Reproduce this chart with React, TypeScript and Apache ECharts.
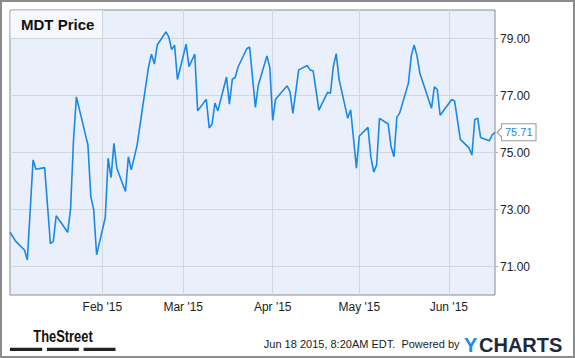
import React, { useEffect, useRef } from "react";
import * as echarts from "echarts";

// Trading dates (vertices of the price line) and closing prices
const dates: string[] = [
  "2014-12-31", "2015-01-02", "2015-01-05", "2015-01-06", "2015-01-08", "2015-01-09",
  "2015-01-12", "2015-01-14", "2015-01-15", "2015-01-16", "2015-01-20", "2015-01-21",
  "2015-01-22", "2015-01-23", "2015-01-27", "2015-01-28", "2015-01-29", "2015-01-30",
  "2015-02-02", "2015-02-03", "2015-02-04", "2015-02-05", "2015-02-06", "2015-02-09",
  "2015-02-10", "2015-02-11", "2015-02-13", "2015-02-17", "2015-02-18", "2015-02-19",
  "2015-02-20", "2015-02-23", "2015-02-24", "2015-02-25", "2015-02-26", "2015-02-27",
  "2015-03-02", "2015-03-03", "2015-03-05", "2015-03-06", "2015-03-09", "2015-03-10",
  "2015-03-11", "2015-03-12", "2015-03-13", "2015-03-16", "2015-03-17", "2015-03-18",
  "2015-03-19", "2015-03-20", "2015-03-23", "2015-03-24", "2015-03-26", "2015-03-27",
  "2015-03-30", "2015-03-31", "2015-04-01", "2015-04-02", "2015-04-06", "2015-04-07",
  "2015-04-08", "2015-04-10", "2015-04-13", "2015-04-14", "2015-04-15", "2015-04-17",
  "2015-04-20", "2015-04-21", "2015-04-22", "2015-04-23", "2015-04-24", "2015-04-27",
  "2015-04-28", "2015-04-30", "2015-05-01", "2015-05-04", "2015-05-05", "2015-05-06",
  "2015-05-07", "2015-05-08", "2015-05-11", "2015-05-12", "2015-05-13", "2015-05-14",
  "2015-05-15", "2015-05-18", "2015-05-19", "2015-05-20", "2015-05-21", "2015-05-22",
  "2015-05-26", "2015-05-27", "2015-05-28", "2015-05-29", "2015-06-02", "2015-06-03",
  "2015-06-05", "2015-06-08", "2015-06-09", "2015-06-10", "2015-06-11", "2015-06-12",
  "2015-06-15", "2015-06-16", "2015-06-17",
];

const prices: number[] = [
  72.2, 71.88, 71.58, 71.23, 74.74, 74.41,
  74.47, 71.8, 71.88, 72.78, 72.2, 73.05,
  75.44, 76.95, 75.26, 73.45, 72.99, 71.41,
  72.72, 74.8, 74.12, 75.32, 74.45, 73.63,
  74.85, 74.39, 75.24, 78.01, 78.45, 78.1,
  78.77, 79.23, 79.06, 78.61, 78.77, 77.56,
  78.8, 78.01, 78.45, 76.46, 76.87, 75.86,
  76.0, 76.74, 76.46, 77.65, 76.7, 77.57,
  77.63, 78.0, 78.64, 78.7, 76.58, 77.36,
  78.39, 77.98, 76.13, 76.87, 77.34, 77.13,
  76.37, 77.9, 78.05, 77.89, 77.87, 76.49,
  77.11, 77.08, 78.01, 78.47, 77.56, 76.2,
  76.5, 74.45, 75.58, 75.88, 74.85, 74.31,
  74.57, 76.2, 76.0, 75.2, 74.85, 76.23,
  76.39, 77.43, 78.4, 78.77, 78.38, 77.77,
  76.55, 77.3, 77.21, 76.31, 76.86, 76.81,
  75.46, 75.16, 74.91, 76.16, 76.2, 75.53,
  75.41, 75.61, 75.71,
];

const xTickDates: string[] = ["2015-02-01", "2015-03-01", "2015-04-01", "2015-05-01", "2015-06-01"];
const monthNames: string[] = ["Jan", "Feb", "Mar", "Apr", "May", "Jun", "Jul", "Aug", "Sep", "Oct", "Nov", "Dec"];
const yTicks: number[] = [71, 73, 75, 77, 79];
const xRange: string[] = ["2014-12-31", "2015-06-17"];
const yRange: number[] = [70, 80];

const chartTitle = "MDT Price";
const footerText = "Jun 18 2015, 8:20AM EDT.  Powered by";

const toTs = (s: string): number => {
  const [y, m, d] = s.split("-").map(Number);
  return new Date(y, m - 1, d).getTime();
};

const FONT = "'Liberation Sans', Arial, sans-serif";

export default function App() {
  const ref = useRef<HTMLDivElement>(null);

  useEffect(() => {
    if (!ref.current) return;
    const chart = echarts.init(ref.current, undefined, { renderer: "svg" });
    const seriesData = dates.map((d, i) => [toTs(d), prices[i]]);
    const xTickTs = xTickDates.map(toTs);
    const last = seriesData[seriesData.length - 1];

    chart.setOption({
      animation: false,
      backgroundColor: "#ffffff",
      grid: {
        left: 10,
        top: 10,
        width: 485,
        height: 285,
        show: true,
        backgroundColor: "#eaf0fb",
        borderColor: "#8c8c8c",
        borderWidth: 1,
      },
      xAxis: {
        type: "value",
        min: toTs(xRange[0]),
        max: toTs(xRange[1]),
        axisLine: { show: false },
        axisTick: { show: false, customValues: xTickTs },
        axisLabel: {
          customValues: xTickTs,
          formatter: (v: number) => {
            const d = new Date(v);
            return `${monthNames[d.getMonth()]} '${String(d.getFullYear()).slice(2)}`;
          },
          color: "#222",
          fontSize: 12,
          fontFamily: FONT,
          margin: 6,
        },
        splitLine: { show: true, lineStyle: { color: "#d3d6da", width: 1 } },
      },
      yAxis: {
        type: "value",
        position: "right",
        min: yRange[0],
        max: yRange[1],
        axisLine: { show: false },
        axisTick: { show: true, length: 3, customValues: yTicks, lineStyle: { color: "#b0b0b0" } },
        axisLabel: {
          customValues: yTicks,
          formatter: (v: number) => v.toFixed(2),
          color: "#222",
          fontSize: 12,
          fontFamily: FONT,
          margin: 5,
        },
        splitLine: { show: true, lineStyle: { color: "#d3d6da", width: 1 } },
      },
      series: [
        {
          type: "line",
          data: seriesData,
          showSymbol: false,
          symbol: "none",
          lineStyle: { color: "#1a88e6", width: 1.6 },
          endLabel: {
            show: true,
            formatter: (p: any) => Number(p.value[1]).toFixed(2),
            color: "#1e88e5",
            fontSize: 11,
            fontFamily: FONT,
            backgroundColor: "#ffffff",
            borderColor: "#999999",
            borderWidth: 1,
            padding: [3, 3, 2, 3],
            distance: 7,
          },
          markPoint: {
            silent: true,
            symbol: "path://M6,0 L0,5 L6,10",
            symbolSize: [5, 10],
            symbolOffset: [4.5, 0],
            itemStyle: { color: "#ffffff", borderColor: "#999999", borderWidth: 1 },
            label: { show: false },
            data: [{ coord: last }],
          },
        },
      ],
      graphic: [
        {
          type: "rect",
          shape: { x: 1, y: 1, width: 573, height: 356 },
          style: { fill: "none", stroke: "#8c8c8c", lineWidth: 2 },
          silent: true,
        },
        {
          type: "rect",
          shape: { x: 10.5, y: 10.5, width: 92.3, height: 27.3 },
          style: { fill: "#f5f8fd" },
          silent: true,
        },
        {
          type: "text",
          x: 21,
          y: 24.5,
          style: {
            text: chartTitle,
            fontSize: 15,
            fontWeight: "bold",
            fontFamily: FONT,
            fill: "#111",
            align: "left",
            verticalAlign: "middle",
          },
        },
        {
          type: "text",
          x: 63,
          y: 336,
          scaleX: 0.76,
          style: {
            text: "TheStreet",
            fontSize: 17,
            fontWeight: "bold",
            fontFamily: "'Liberation Sans Narrow', 'Arial Narrow', sans-serif",
            fill: "#111",
            align: "center",
            verticalAlign: "middle",
          },
        },
        { type: "rect", shape: { x: 9.9, y: 347.7, width: 32.3, height: 3.3 }, style: { fill: "#222" } },
        { type: "rect", shape: { x: 46.9, y: 347.7, width: 31.9, height: 3.3 }, style: { fill: "#222" } },
        { type: "rect", shape: { x: 83.6, y: 347.7, width: 31.9, height: 3.3 }, style: { fill: "#222" } },
        {
          type: "text",
          x: 459.5,
          y: 343.5,
          style: {
            text: footerText,
            fontSize: 11,
            fontFamily: FONT,
            fill: "#222",
            align: "right",
            verticalAlign: "middle",
          },
        },
        {
          type: "text",
          x: 464,
          y: 345,
          style: {
            text: "Y",
            fontSize: 20,
            fontWeight: "bold",
            fontFamily: FONT,
            fill: "#1a8be8",
            align: "left",
            verticalAlign: "middle",
          },
        },
        {
          type: "text",
          x: 479,
          y: 345,
          style: {
            text: "CHARTS",
            fontSize: 20,
            fontWeight: "bold",
            fontFamily: FONT,
            fill: "#1c2b39",
            align: "left",
            verticalAlign: "middle",
          },
        },
      ],
    });

    return () => {
      chart.dispose();
    };
  }, []);

  return (
    <div
      ref={ref}
      style={{ position: "absolute", left: 0, top: 0, width: 575, height: 358, background: "#fff" }}
    />
  );
}
